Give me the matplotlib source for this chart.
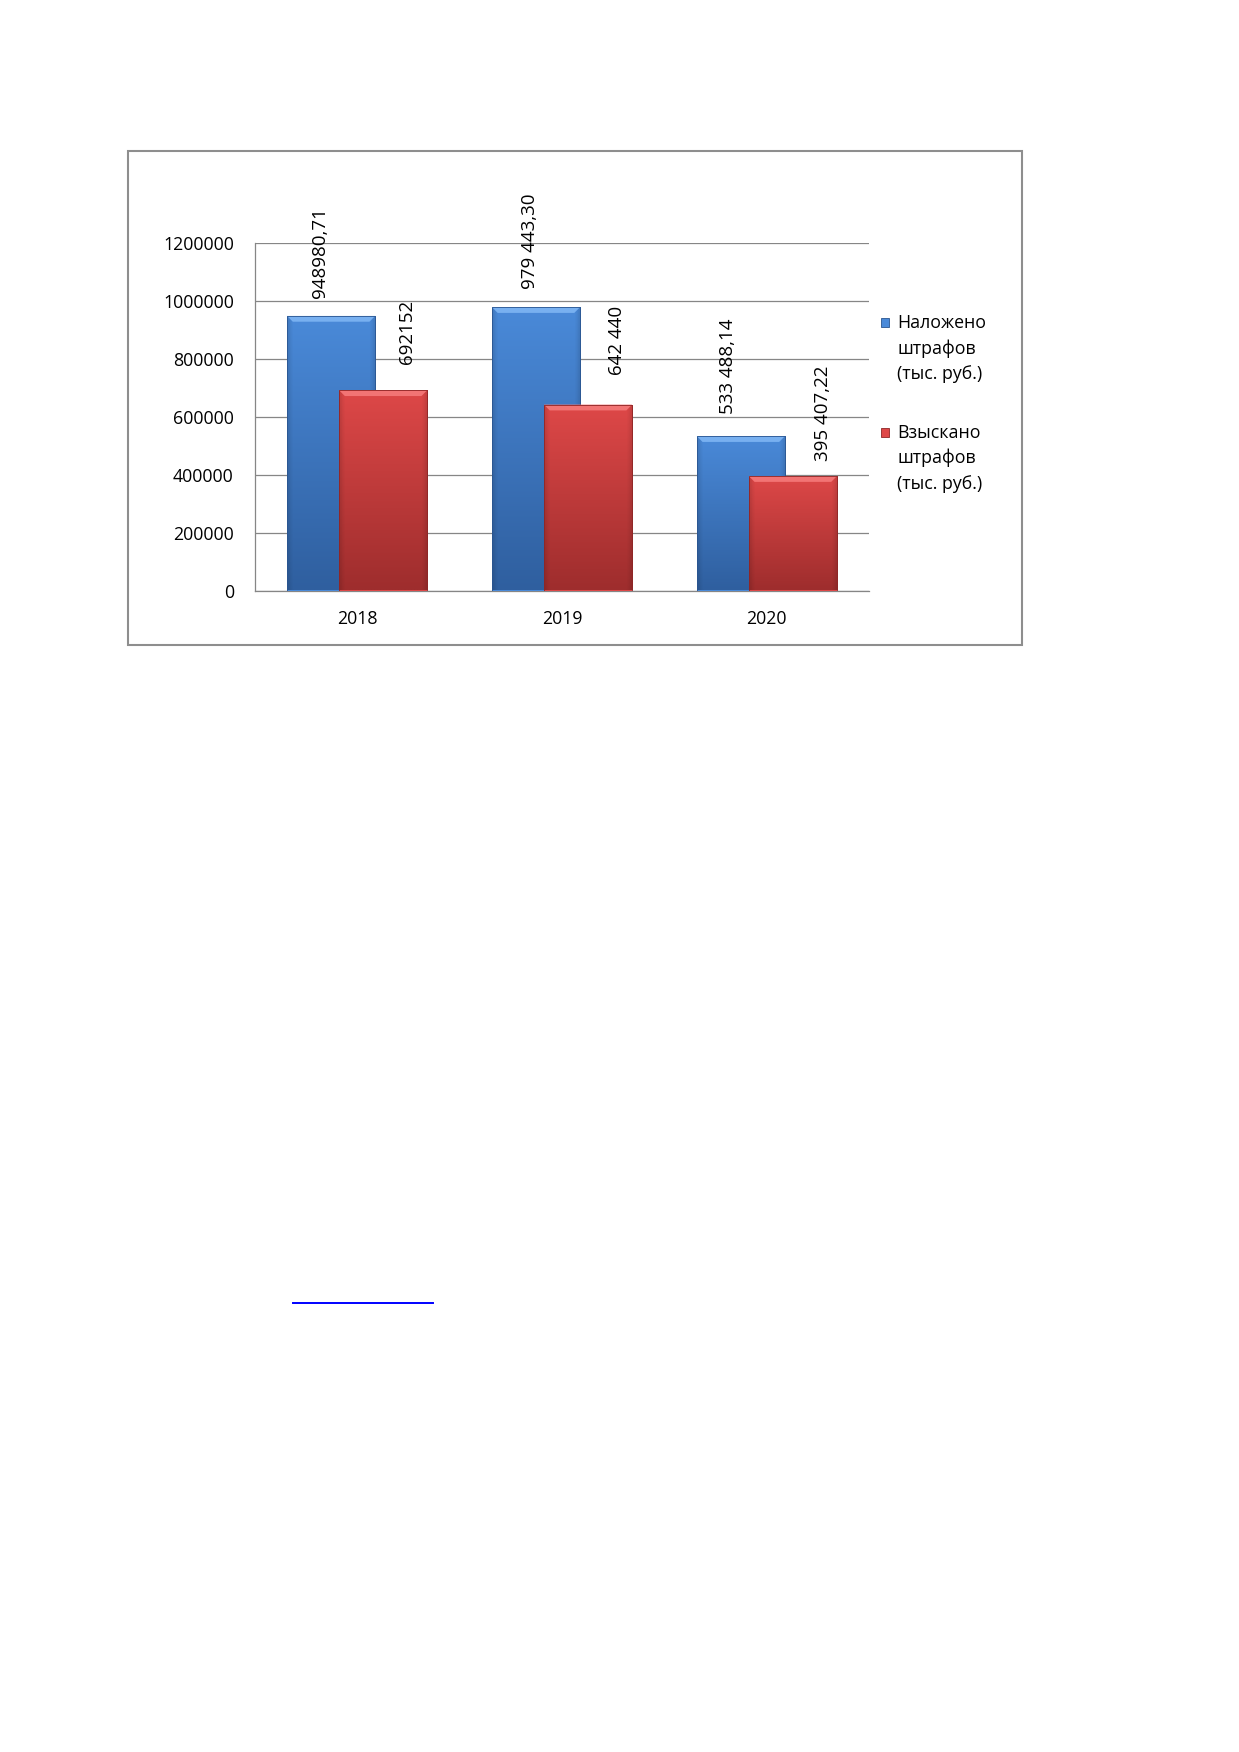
import numpy as np
import matplotlib
matplotlib.use('Agg')
import matplotlib.pyplot as plt
from matplotlib.patches import Rectangle, Polygon
from matplotlib.lines import Line2D
from matplotlib.colors import to_rgb

plt.rcParams['font.family'] = ['Open Sans', 'DejaVu Sans']

years = ['2018', '2019', '2020']
imposed = [948980.71, 979443.30, 533488.14]
collected = [692152, 642440, 395407.22]
imposed_text = ['948980,71', '979 443,30', '533 488,14']
collected_text = ['692152', '642 440', '395 407,22']
series_names = ['Наложено\nштрафов\n(тыс. руб.)', 'Взыскано\nштрафов\n(тыс. руб.)']
yticks = [0, 200000, 400000, 600000, 800000, 1000000, 1200000]

# label nudges (points): dx, dy from bar top centre
imposed_nudge = [(-8, 13), (-4, 13), (-9, 16)]
collected_nudge = [(17, 19), (21, 21), (22, 11)]

W, H = 1239, 1752
fig = plt.figure(figsize=(W / 100, H / 100), dpi=100)
fig.patch.set_facecolor('white')

# outer chart frame
fig.add_artist(Rectangle((128.3 / W, 1 - 645.3 / H), (1022.3 - 128.3) / W, (645.3 - 150.7) / H,
                         transform=fig.transFigure, fill=False, edgecolor='#8e8e8e', linewidth=1.5))

ax = fig.add_axes([254.7 / W, 1 - 590.5 / H, (869.3 - 254.7) / W, (590.5 - 243.3) / H])

blue = dict(top='#4a8ad9', bot='#2f5f9f', bevel='#78b0f0', edge='#2a5590')
red = dict(top='#de4848', bot='#9e2d2d', bevel='#f27474', edge='#8e2626')

x = np.arange(len(years))
off = 0.127
bw = 0.43


def shade_bars(bars, c):
    top = np.array(to_rgb(c['top']))
    bot = np.array(to_rgb(c['bot']))
    for b in bars:
        x0, w, h = b.get_x(), b.get_width(), b.get_height()
        t = np.linspace(0, 1, 200)[:, None, None]
        s = np.linspace(0, 1, 60)[None, :, None]
        col = top * (1 - t) + bot * t
        edge = 1 - 0.12 * (np.clip(1 - s / 0.06, 0, 1) + np.clip(1 - (1 - s) / 0.06, 0, 1))
        img = np.clip(col * edge, 0, 1)
        im = ax.imshow(img, extent=[x0, x0 + w, 0, h], aspect='auto', origin='upper', zorder=b.get_zorder() + 0.1)
        im.set_clip_path(b)
        dx = 0.028
        dy = 20000
        ax.add_patch(Polygon([(x0, h), (x0 + w, h), (x0 + w - dx, h - dy), (x0 + dx, h - dy)],
                             closed=True, facecolor=c['bevel'], edgecolor='none', zorder=b.get_zorder() + 0.2))
        ax.add_patch(Rectangle((x0, 0), w, h, fill=False, edgecolor=c['edge'], linewidth=0.6,
                               zorder=b.get_zorder() + 0.3))


b1 = ax.bar(x - off, imposed, bw, color=blue['top'], zorder=3)
shade_bars(b1, blue)
b2 = ax.bar(x + off, collected, bw, color=red['top'], zorder=4)
shade_bars(b2, red)

for bars, texts, nudges in [(b1, imposed_text, imposed_nudge), (b2, collected_text, collected_nudge)]:
    for b, t, (ndx, ndy) in zip(bars, texts, nudges):
        ax.annotate(t, (b.get_x() + b.get_width() / 2, b.get_height()), xytext=(ndx, ndy),
                    textcoords='offset points', rotation=90, ha='center', va='bottom',
                    fontsize=13.5, color='black', zorder=6)

ax.set_xlim(-0.5, 2.5)
ax.set_ylim(0, 1200000)
ax.set_yticks(yticks)
ax.set_yticklabels([str(v) for v in yticks], fontsize=12.8)
ax.set_xticks(x)
ax.set_xticklabels(years, fontsize=12.8)
ax.tick_params(axis='both', length=0)
ax.tick_params(axis='y', pad=15)
ax.tick_params(axis='x', pad=14)
ax.yaxis.grid(True, color='#868686', linewidth=0.9)
ax.set_axisbelow(True)
for side in ['top', 'right']:
    ax.spines[side].set_visible(False)
for side in ['left', 'bottom']:
    ax.spines[side].set_color('#868686')
    ax.spines[side].set_linewidth(0.9)

# legend: marker beside the first line of each three-line entry
entry_base = [328.3, 437.7]
line_step = 25.5
for name, c, yb in zip(series_names, [blue, red], entry_base):
    fig.add_artist(Rectangle((880.5 / W, 1 - (yb - 1) / H), 8 / W, 9 / H, transform=fig.transFigure,
                             facecolor=c['top'], edgecolor=c['edge'], linewidth=0.6))
    for i, line in enumerate(name.split('\n')):
        fig.text(897.3 / W, 1 - (yb + i * line_step) / H, line, fontsize=12.8,
                 ha='left', va='baseline', color='black')

# hyperlink underline further down the page
fig.add_artist(Line2D([293 / W, 433 / W], [1 - 1303 / H, 1 - 1303 / H], transform=fig.transFigure,
                      color='#0000ff', linewidth=1.4))

fig.savefig('out.png', dpi=100)
